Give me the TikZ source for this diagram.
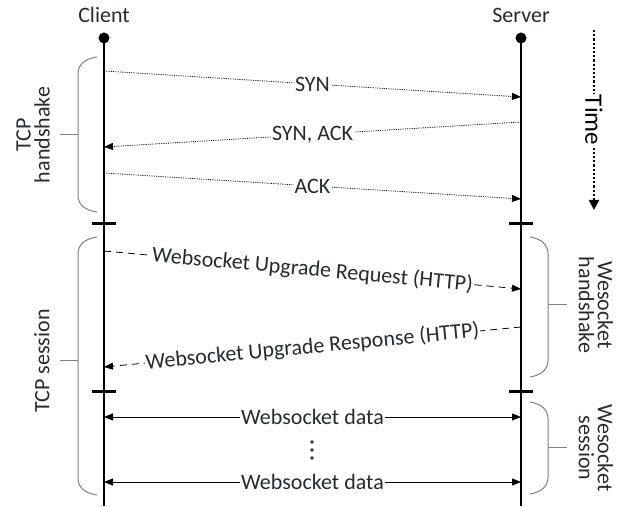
\documentclass[tikz,border=0pt]{standalone}
\usepackage{fontspec}
\setmainfont{Carlito}
\usetikzlibrary{positioning, arrows.meta}
\definecolor{txt}{HTML}{262A33}
\definecolor{bracegray}{HTML}{808080}

\begin{document}
\begin{tikzpicture}[
    x=1pt, y=1pt,
    every node/.style={font=\fontsize{22}{23}\selectfont, text=txt},
    party/.style={inner sep=0pt},
    dot/.style={circle, fill=black, inner sep=0pt, minimum size=11pt},
    lifeline/.style={line width=1.1pt},
    tick/.style={line width=3pt},
    msg/.style={densely dotted, line width=0.8pt, -{Triangle[length=9pt, width=7pt]}},
    upg/.style={dash pattern=on 7pt off 5pt, line width=0.8pt, -{Triangle[length=9pt, width=7pt]}},
    data/.style={line width=0.9pt, {Triangle[length=9pt, width=7pt]}-{Triangle[length=9pt, width=7pt]}},
    lbl/.style={fill=white, inner sep=1pt},
    brace/.style={draw=bracegray, line width=1pt},
    side/.style={align=center, font=\fontsize{22}{19}\selectfont},
    timearrow/.style={line width=2.2pt, dotted, -{Triangle[length=10pt, width=10pt]}}
]
\useasboundingbox (0,0) rectangle (621,506);

% Client and server
\node[party] (client) at (104,491) {Client};
\node[party] (server) at (521,491) {Server};
\node[dot] (cdot) at (104,468) {};
\node[dot] (sdot) at (521,468) {};
\coordinate (cend) at (104,0);
\coordinate (send) at (521,0);
\draw[lifeline] (cdot.center) -- (cend);
\draw[lifeline] (sdot.center) -- (send);

% Points on the lifelines
\coordinate (c1) at (104,435); \coordinate (s1) at (521,409);
\coordinate (s2) at (521,384); \coordinate (c2) at (104,359);
\coordinate (c3) at (104,333); \coordinate (s3) at (521,307);
\coordinate (c4) at (104,255); \coordinate (s4) at (521,217);
\coordinate (s5) at (521,179); \coordinate (c5) at (104,139);
\coordinate (c6) at (104,89);  \coordinate (s6) at (521,89);
\coordinate (c7) at (104,24);  \coordinate (s7) at (521,24);

% Phase ticks
\foreach \y in {282,114} {
  \draw[tick] (92,\y) -- (116,\y);
  \draw[tick] (509,\y) -- (533,\y);
}

% TCP handshake
\draw[msg] (c1) -- node[lbl] {SYN} (s1);
\draw[msg] (s2) -- node[lbl] {SYN, ACK} (c2);
\draw[msg] (c3) -- node[lbl] {ACK} (s3);

% Websocket handshake
\draw[upg] (c4) -- node[lbl, sloped] {Websocket Upgrade Request (HTTP)} (s4);
\draw[upg] (s5) -- node[lbl, sloped] {Websocket Upgrade Response (HTTP)} (c5);

% Websocket data
\draw[data] (c6) -- node[lbl] {Websocket data} (s6);
\foreach \y in {48,56,64} \fill[txt] (312,\y) circle (1.8pt);
\draw[data] (c7) -- node[lbl] {Websocket data} (s7);

% Time
\coordinate (ttop) at (594,476);
\coordinate (tbot) at (594,296);
\draw[timearrow] (ttop) -- node[lbl, rotate=-90, font=\fontsize{25}{26}\selectfont, text=black] {Time} (tbot);

% Braces, left
\draw[brace] (97,449) .. controls (84,447) and (78,441) .. (78,432) -- (78,311) .. controls (78,302) and (84,296) .. (97,294);
\draw[brace] (78,371) -- (60,371);
\node[side, rotate=90] (tcphs) at (33,371) {TCP\\handshake};
\draw[brace] (97,269) .. controls (84,267) and (78,261) .. (78,252) -- (78,28) .. controls (78,19) and (84,13) .. (97,11);
\draw[brace] (78,145) -- (60,145);
\node[side, rotate=90] (tcpss) at (42,145) {TCP session};

% Braces, right
\draw[brace] (530,269) .. controls (542,267) and (548,261) .. (548,252) -- (548,146) .. controls (548,137) and (542,131) .. (530,129);
\draw[brace] (548,201) -- (567,201);
\node[side, rotate=-90] (wshs) at (596,201) {Wesocket\\handshake};
\draw[brace] (530,104) .. controls (542,102) and (548,96) .. (548,87) -- (548,29) .. controls (548,20) and (542,14) .. (530,12);
\draw[brace] (548,58) -- (567,58);
\node[side, rotate=-90] (wsss) at (596,58) {Wesocket\\session};
\end{tikzpicture}
\end{document}
